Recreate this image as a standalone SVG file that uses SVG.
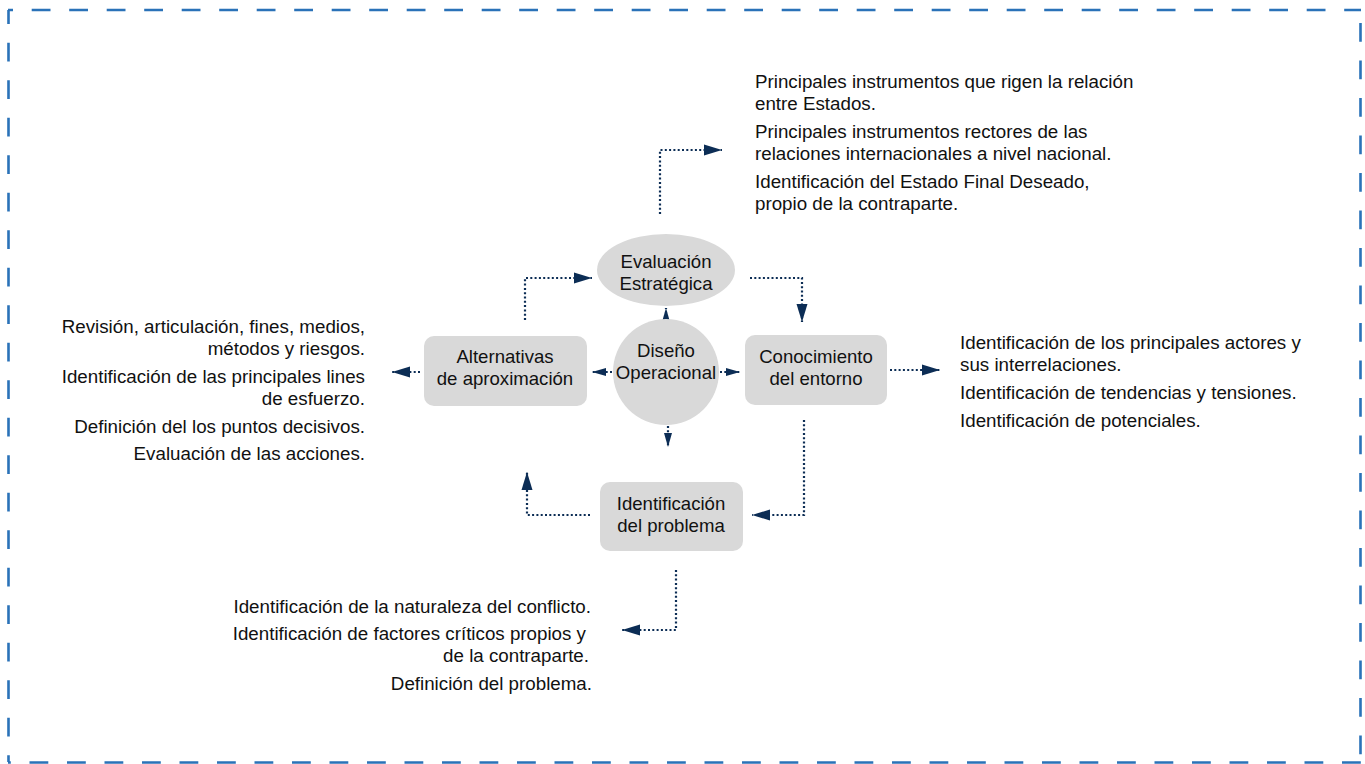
<svg xmlns="http://www.w3.org/2000/svg" width="1365" height="764" viewBox="0 0 1365 764">
<defs>
<style>
.border{fill:none;stroke:#2a72b8;stroke-width:2.6;stroke-dasharray:18.8 18.7}
.node{fill:#d9d9d9}
.lbl{font-family:"Liberation Sans",Arial,Helvetica,sans-serif;font-size:18.6px;fill:#111;text-anchor:middle}
.txt{font-family:"Liberation Sans",Arial,Helvetica,sans-serif;font-size:18.75px;fill:#111}
.r{text-anchor:end}
.conn{fill:none;stroke:#0c2d55;stroke-width:2.2;stroke-dasharray:2 2.3;marker-end:url(#ah)}
.short{marker-end:url(#ahs)}
</style>
<marker id="ah" markerUnits="userSpaceOnUse" markerWidth="18" markerHeight="12" refX="18" refY="6" orient="auto" viewBox="0 0 18 12">
<path d="M0,0.5 L18,6 L0,11.5 z" fill="#0c2d55"/>
</marker>
<marker id="ahs" markerUnits="userSpaceOnUse" markerWidth="14" markerHeight="9" refX="14" refY="4.5" orient="auto" viewBox="0 0 14 9">
<path d="M0,0.5 L14,4.5 L0,8.5 z" fill="#0c2d55"/>
</marker>
</defs>
<line class="border" x1="8" y1="10" x2="1361" y2="10" stroke-dashoffset="13.8"/>
<line class="border" x1="8.5" y1="10" x2="8.5" y2="762" stroke-dashoffset="4.8"/>
<line class="border" x1="1360.5" y1="10" x2="1360.5" y2="762" stroke-dashoffset="24.5"/>
<line class="border" x1="8" y1="762.5" x2="1361" y2="762.5" stroke-dashoffset="16"/>

<g id="connectors">
<path class="conn" d="M660,214 V150 H722"/>
<path class="conn" d="M525,320 V278 H592"/>
<path class="conn" d="M750,278 H802 V322"/>
<path class="conn short" d="M666,322 V308"/>
<path class="conn short" d="M612,372 H592"/>
<path class="conn short" d="M720,372 H740"/>
<path class="conn short" d="M668,426 V447"/>
<path class="conn" d="M890,370 H940"/>
<path class="conn" d="M420,372 H392"/>
<path class="conn" d="M804,420 V515 H752"/>
<path class="conn" d="M590,515 H527 V472"/>
<path class="conn" d="M676,570 V630 H622"/>
</g>

<g id="evaluacion">
<ellipse class="node" cx="666" cy="270" rx="69" ry="36"/>
<text class="lbl" x="666" y="268">Evaluación</text>
<text class="lbl" x="666" y="290">Estratégica</text>
</g>
<g id="diseno">
<circle class="node" cx="666" cy="372" r="53"/>
<text class="lbl" x="666" y="357">Diseño</text>
<text class="lbl" x="666" y="379">Operacional</text>
</g>
<g id="alternativas">
<rect class="node" x="424" y="336" width="163" height="70" rx="10"/>
<text class="lbl" x="505" y="363">Alternativas</text>
<text class="lbl" x="505" y="385">de aproximación</text>
</g>
<g id="conocimiento">
<rect class="node" x="745" y="335" width="142" height="70" rx="10"/>
<text class="lbl" x="816" y="363">Conocimiento</text>
<text class="lbl" x="816" y="385">del entorno</text>
</g>
<g id="identificacion">
<rect class="node" x="600" y="482" width="143" height="69" rx="10"/>
<text class="lbl" x="671" y="510">Identificación</text>
<text class="lbl" x="671" y="532">del problema</text>
</g>

<g id="texto-superior">
<text class="txt" x="755" y="88">Principales instrumentos que rigen la relación</text>
<text class="txt" x="755" y="110">entre Estados.</text>
<text class="txt" x="755" y="138">Principales instrumentos rectores de las</text>
<text class="txt" x="755" y="160">relaciones internacionales a nivel nacional.</text>
<text class="txt" x="755" y="188">Identificación del Estado Final Deseado,</text>
<text class="txt" x="755" y="210">propio de la contraparte.</text>
</g>
<g id="texto-izquierdo">
<text class="txt r" x="365" y="333">Revisión, articulación, fines, medios,</text>
<text class="txt r" x="365" y="355">métodos y riesgos.</text>
<text class="txt r" x="365" y="383">Identificación de las principales lines</text>
<text class="txt r" x="365" y="405">de esfuerzo.</text>
<text class="txt r" x="365" y="433">Definición del los puntos decisivos.</text>
<text class="txt r" x="365" y="460">Evaluación de las acciones.</text>
</g>
<g id="texto-derecho">
<text class="txt" x="960" y="349">Identificación de los principales actores y</text>
<text class="txt" x="960" y="371">sus interrelaciones.</text>
<text class="txt" x="960" y="399">Identificación de tendencias y tensiones.</text>
<text class="txt" x="960" y="427">Identificación de potenciales.</text>
</g>
<g id="texto-inferior">
<text class="txt r" x="591" y="613">Identificación de la naturaleza del conflicto.</text>
<text class="txt r" x="586" y="640">Identificación de factores críticos propios y</text>
<text class="txt r" x="589" y="662">de la contraparte.</text>
<text class="txt r" x="592" y="690">Definición del problema.</text>
</g>
</svg>
